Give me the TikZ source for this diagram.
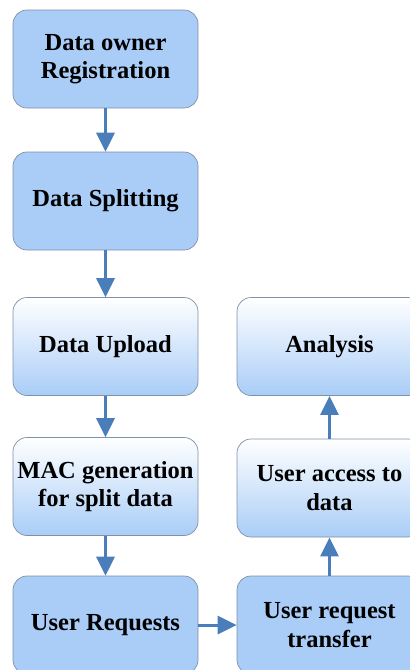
\documentclass[tikz,border=0pt]{standalone}
\usepackage{fontspec}
\setmainfont{Liberation Serif}
\usetikzlibrary{arrows.meta}
\definecolor{boxblue}{HTML}{A9CDF7}
\definecolor{boxedge}{HTML}{8090A8}
\definecolor{arrowblue}{HTML}{4A7EBB}
\begin{document}
\begin{tikzpicture}[x=1pt,y=-1pt,
  flowbox/.style={rectangle, rounded corners=14pt, draw=boxedge, line width=0.7pt,
    minimum width=185pt, minimum height=98pt, align=center, inner sep=1pt,
    font=\fontsize{24.5}{28.5}\selectfont\bfseries},
  solidbox/.style={flowbox, fill=boxblue},
  fadebox/.style={flowbox, top color=white, bottom color=boxblue},
  flowarrow/.style={draw=arrowblue, line width=3pt,
    -{Triangle[width=18pt,length=19pt]}}]
\useasboundingbox (0,0) rectangle (410,670);
\begin{scope}
\clip (0,0) rectangle (410,670);
% left column
\node[solidbox] (reg)    at (105.5,59)    {Data owner\\Registration};
\node[solidbox] (split)  at (105.5,201)   {Data Splitting};
\node[fadebox]  (upload) at (105.5,346.5) {Data Upload};
\node[fadebox]  (mac)    at (105.5,486.5) {MAC generation\\for split data};
\node[solidbox] (req)    at (105.5,625)   {User Requests};
% right column
\node[fadebox]  (analysis) at (329.5,346.5) {Analysis};
\node[fadebox]  (access)   at (329.5,488)   {User access to\\data};
\node[solidbox] (transfer) at (329.5,625)   {User request\\transfer};
% connectors
\draw[flowarrow] (reg) -- (split);
\draw[flowarrow] (split) -- (upload);
\draw[flowarrow] (upload) -- (mac);
\draw[flowarrow] (mac) -- (req);
\draw[flowarrow] (req) -- (transfer);
\draw[flowarrow] (transfer) -- (access);
\draw[flowarrow] (access) -- (analysis);
\end{scope}
\end{tikzpicture}
\end{document}
